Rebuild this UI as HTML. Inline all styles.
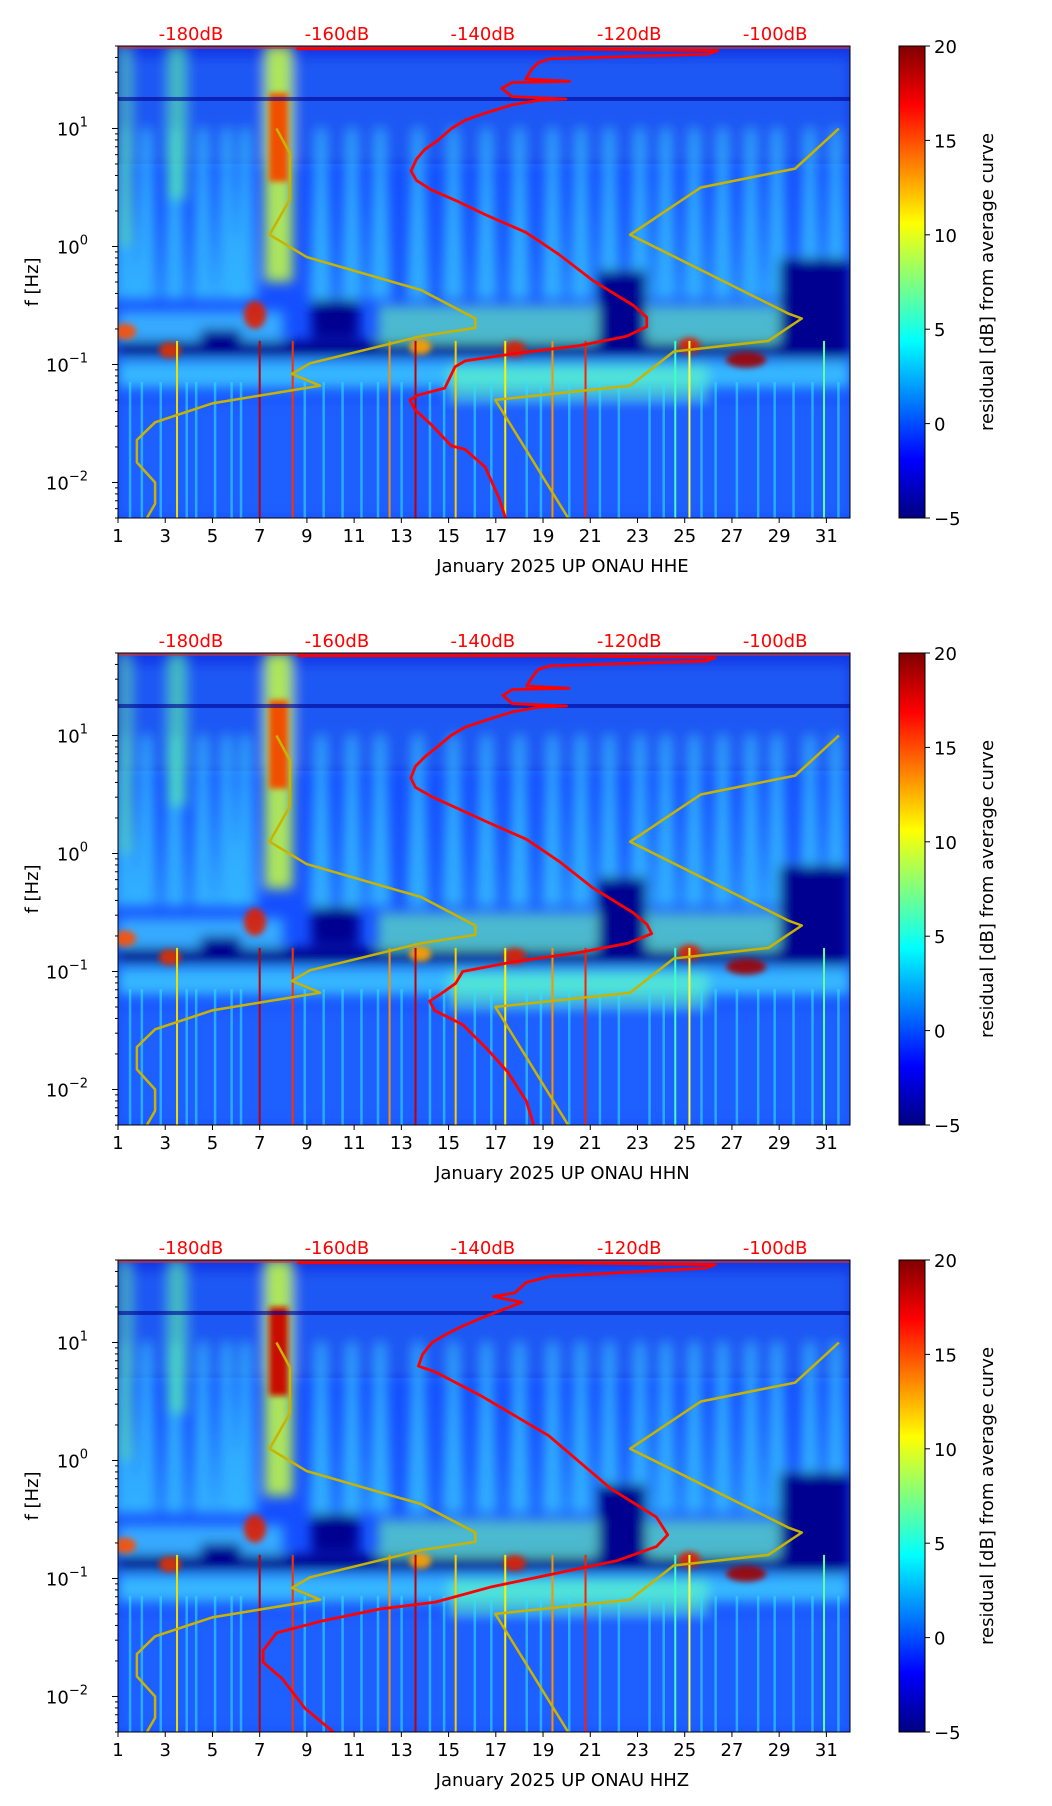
<!DOCTYPE html>
<html><head><meta charset="utf-8">
<style>
html,body{margin:0;padding:0;background:#fff;}
svg{display:block;font-family:"DejaVu Sans","Liberation Sans",sans-serif;}
</style></head>
<body>
<svg id="fig" width="1052" height="1806" viewBox="0 0 1052 1806" xmlns="http://www.w3.org/2000/svg">
<defs>
<filter id="blur6" x="-20%" y="-20%" width="140%" height="140%"><feGaussianBlur stdDeviation="6"/></filter>
<filter id="blur3" x="-50%" y="-50%" width="200%" height="200%"><feGaussianBlur stdDeviation="3"/></filter>
<linearGradient id="jet" x1="0" y1="1" x2="0" y2="0">
<stop offset="0" stop-color="#000080"/><stop offset="0.125" stop-color="#0000ff"/>
<stop offset="0.375" stop-color="#00ffff"/><stop offset="0.625" stop-color="#ffff00"/>
<stop offset="0.875" stop-color="#ff0000"/><stop offset="1" stop-color="#800000"/>
</linearGradient>
</defs>
</svg>
<script>
// ---- data ----
const channels = ["HHE","HHN","HHZ"];
const dayTicks = [1,3,5,7,9,11,13,15,17,19,21,23,25,27,29,31];
const dbLabels = ["-180dB","-160dB","-140dB","-120dB","-100dB"];
const dbLabelDays = [4.09,10.27,16.45,22.65,28.83];
const yTickExp = [1,0,-1,-2];
const cbTicks = [20,15,10,5,0,-5];
const yelADays = [7.71,8.28,8.28,7.42,8.99,13.84,16.13,16.13,13.84,9.13,8.36,9.56,4.99,2.57,1.80,1.80,2.57,2.57,2.23];
const yelALogF = [1.00,0.79,0.40,0.10,-0.09,-0.37,-0.61,-0.69,-0.76,-0.99,-1.08,-1.18,-1.33,-1.49,-1.64,-1.83,-2.00,-2.18,-2.30];
const yelBDays = [20.06,16.98,22.69,24.54,28.54,29.96,29.40,22.69,25.68,29.68,31.53];
const yelBLogF = [-2.30,-1.30,-1.18,-0.89,-0.80,-0.61,-0.57,0.10,0.50,0.66,1.00];
const redDays = [17.41,17.13,16.55,15.70,15.12,14.27,13.56,13.36,13.70,14.84,15.27,15.70,17.69,20.54,22.54,23.39,23.39,22.83,21.12,19.69,18.27,16.55,15.41,14.27,13.64,13.41,13.64,13.98,14.55,15.12,15.70,16.55,17.69,18.83,19.97,17.69,17.25,17.69,20.12,18.27,18.55,18.83,19.26,25.98,26.40,19.69,8.56];
const redLogF = [-2.30,-2.13,-1.87,-1.72,-1.69,-1.51,-1.38,-1.30,-1.26,-1.20,-1.02,-0.97,-0.91,-0.84,-0.76,-0.68,-0.60,-0.50,-0.29,-0.07,0.12,0.27,0.38,0.48,0.56,0.64,0.74,0.82,0.90,1.00,1.07,1.13,1.20,1.24,1.25,1.27,1.34,1.39,1.40,1.42,1.51,1.56,1.59,1.63,1.66,1.675,1.675];
const redNDays = [18.6,18.3,17.5,16.6,15.6,14.4,14.2,14.6,15.3,15.6,17.7,20.5,22.6,23.6,23.4,22.8,21.1,19.7,18.3,16.6,15.4,14.3,13.6,13.4,13.6,14.0,14.5,15.1,15.7,16.6,17.7,18.8,20.0,17.7,17.3,17.7,20.1,18.3,18.6,18.8,19.3,25.9,26.3,19.7,8.6];
const redNLogF = [-2.30,-2.10,-1.85,-1.65,-1.45,-1.33,-1.25,-1.20,-1.10,-1.00,-0.92,-0.84,-0.76,-0.68,-0.60,-0.50,-0.29,-0.07,0.12,0.27,0.38,0.48,0.56,0.64,0.74,0.82,0.90,1.00,1.07,1.13,1.20,1.24,1.25,1.27,1.34,1.39,1.40,1.42,1.51,1.56,1.59,1.63,1.66,1.675,1.675];
const redZDays = [10.12,8.92,7.96,7.15,7.15,7.72,9.64,12.04,14.44,16.84,19.24,22.12,23.80,24.28,23.80,21.88,19.24,16.36,14.44,13.72,13.9,14.3,14.9,15.5,16.3,17.2,18.1,16.9,17.8,18.3,19.3,25.9,26.3,19.7,8.6];
const redZLogF = [-2.30,-2.10,-1.85,-1.71,-1.61,-1.46,-1.36,-1.26,-1.20,-1.07,-0.97,-0.85,-0.73,-0.63,-0.48,-0.24,0.21,0.55,0.75,0.80,0.90,1.00,1.07,1.13,1.20,1.27,1.34,1.39,1.42,1.51,1.56,1.63,1.66,1.675,1.675];
const streakDays = [1.3,2.2,3.4,4.6,5.6,6.4,9.6,10.9,12.1,13.7,15.2,16.6,18.0,19.4,20.6,21.8,23.1,24.2,25.4,26.6,27.8,28.9,30.3,31.4];
const spikeDays = [3.5,7.0,8.4,12.5,13.6,15.3,17.4,19.4,20.8,24.6,25.2,30.9];
const spikeColors = ["#f0e000","#c00000","#ff3000","#ff9000","#c00000","#ffcc00","#ffee00","#ff9000","#ff2000","#40ffc0","#ffff40","#60ffa0"];
const lowStreakDays = [1.5,2.0,2.8,3.9,4.3,5.1,5.8,6.2,8.9,9.7,10.5,11.3,12.0,13.0,14.2,14.8,16.1,16.8,18.3,18.9,20.1,21.4,22.2,23.5,24.1,25.7,26.3,27.2,28.1,28.8,29.6,30.4,31.5];
const darkGapDays = [9.2,11.2,21.3,23.4,29.0,32.0,4.5,6.2];
const darkGapLogLo = [-0.78,-0.78,-0.85,-0.85,-0.95,-0.95,-0.85,-0.85];
const darkGapLogHi = [-0.45,-0.45,-0.2,-0.2,-0.1,-0.1,-0.7,-0.7];
const hotDays = [3.2,6.8,1.3,13.8,17.8,25.2,27.6];
const hotLogF = [-0.88,-0.58,-0.72,-0.85,-0.87,-0.84,-0.96];
const hotColor = ["#e03000","#e02000","#ff5000","#ffa000","#e02000","#e02000","#a00000"];

// ---- layout ----
const svg = document.getElementById('fig');
const NS = 'http://www.w3.org/2000/svg';
const AX_L = 118, AX_R = 850, AX_H = 472;
const panelTops = [46, 653, 1260];
const LOGMAX = Math.log10(50), LOGMIN = Math.log10(0.005);
function xs(day){ return AX_L + (day-1)*(AX_R-AX_L)/31; }
function ysf(top){ return lf => top + (LOGMAX-lf)*AX_H/(LOGMAX-LOGMIN); }
function mk(tag, attrs, parent){ const e=document.createElementNS(NS,tag); for(const k in attrs) e.setAttribute(k,attrs[k]); (parent||svg).appendChild(e); return e; }
function pts(days, lfs, ys){ return days.map((d,i)=>xs(d).toFixed(1)+','+ys(lfs[i]).toFixed(1)).join(' '); }

panelTops.forEach((top, p) => {
  const ys = ysf(top);
  const g = mk('g', {});
  
  
  const cid = 'clip'+p;
  const cp = mk('clipPath', {id:cid}, g);
  mk('rect', {x:AX_L, y:top, width:AX_R-AX_L, height:AX_H}, cp);
  const img = mk('g', {'clip-path':'url(#'+cid+')'}, g);
  
  
  const W = AX_R-AX_L;
  mk('rect', {x:AX_L, y:top, width:W, height:AX_H, fill:'#1550ff'}, img);
  mk('rect', {x:AX_L, y:ys(1.7), width:W, height:ys(0.7)-ys(1.7), fill:'#1238e8'}, img);
  mk('rect', {x:AX_L, y:ys(0.7), width:W, height:ys(-0.5)-ys(0.7), fill:'#1650ff'}, img);
  const soft = mk('g', {filter:'url(#blur6)'}, img);
  mk('rect', {x:AX_L, y:ys(1.6), width:W, height:ys(0.7)-ys(1.6), fill:'#2a78ff', opacity:0.5}, soft);
  streakDays.forEach(d => {
    mk('polygon', {points:[ [xs(d)-4,ys(1.0)],[xs(d)+4,ys(1.0)],[xs(d)+12,ys(-0.45)],[xs(d)-12,ys(-0.45)] ].map(a=>a.join(',')).join(' '), fill:'#3cd4ff', opacity:0.7}, soft);
  });
  mk('rect', {x:AX_L, y:ys(-0.97), width:W, height:ys(-1.2)-ys(-0.97), fill:'#40d8ff', opacity:0.75}, soft);
  mk('rect', {x:xs(15), y:ys(-1.0), width:xs(26)-xs(15), height:ys(-1.3)-ys(-1.0), fill:'#60ffc0', opacity:0.6}, soft);
  mk('rect', {x:AX_L, y:ys(-1.3), width:W, height:ys(-2.3)-ys(-1.3), fill:'#1e62ff', opacity:0.8}, soft);
  mk('rect', {x:AX_L, y:ys(-0.8), width:W, height:ys(-0.93)-ys(-0.8), fill:'#000088'}, soft);
  mk('rect', {x:xs(12), y:ys(-0.5), width:xs(29)-xs(12), height:ys(-0.83)-ys(-0.5), fill:'#70ffb0', opacity:0.6}, soft);
  mk('rect', {x:xs(1), y:ys(-0.55), width:xs(8)-xs(1), height:ys(-0.8)-ys(-0.55), fill:'#40c0ff', opacity:0.8}, soft);
  for(let i=0;i<darkGapDays.length;i+=2){
    mk('rect', {x:xs(darkGapDays[i]), y:ys(darkGapLogHi[i]), width:xs(darkGapDays[i+1])-xs(darkGapDays[i]), height:ys(darkGapLogLo[i])-ys(darkGapLogHi[i]), fill:'#000090'}, soft);
  }
  mk('rect', {x:xs(7.2), y:top, width:xs(8.4)-xs(7.2), height:ys(-0.3)-top, fill:'#c8ff40', opacity:0.85}, soft);
  mk('rect', {x:xs(1), y:top, width:xs(1.6)-xs(1), height:ys(0.0)-top, fill:'#60e0a0', opacity:0.6}, soft);
  mk('rect', {x:xs(3.1), y:top, width:xs(3.9)-xs(3.1), height:ys(0.4)-top, fill:'#60ffa0', opacity:0.6}, soft);
  const hot = mk('g', {filter:'url(#blur3)'}, img);
  mk('rect', {x:xs(7.4), y:ys(1.3), width:xs(8.2)-xs(7.4), height:ys(0.55)-ys(1.3), fill: p===2?'#c81000':'#f05000'}, hot);
  hotDays.forEach((d,i) => {
    mk('ellipse', {cx:xs(d), cy:ys(hotLogF[i]), rx:(i===6?20:11), ry:(i===1?14:8), fill:hotColor[i], opacity:0.9}, hot);
  });
  lowStreakDays.forEach(d => {
    mk('rect', {x:xs(d)-1, y:ys(-1.15), width:2.5, height:ys(-2.3)-ys(-1.15), fill:'#30e0ff', opacity:0.6}, img);
  });
  mk('rect', {x:AX_L, y:ys(1.25)-2, width:W, height:4, fill:'#000090', opacity:0.6}, img);
  mk('rect', {x:AX_L, y:top, width:W, height:3, fill:'#e03020', opacity:0.6}, img);
  spikeDays.forEach((d,i) => {
    mk('rect', {x:xs(d)-1, y:ys(-0.8), width:2, height:ys(-2.3)-ys(-0.8), fill:spikeColors[i]}, img);
  });
  const ya = mk('polyline', {points:pts(yelADays,yelALogF,ys), fill:'none', stroke:'#c8b400', 'stroke-width':2.5, 'stroke-linejoin':'round'}, img);
  
  
  const yb = mk('polyline', {points:pts(yelBDays,yelBLogF,ys), fill:'none', stroke:'#c8b400', 'stroke-width':2.5, 'stroke-linejoin':'round'}, img);
  
  
  const rd = p===0 ? [redDays,redLogF] : p===1 ? [redNDays,redNLogF] : [redZDays,redZLogF];
  const rc = mk('polyline', {points:pts(rd[0],rd[1],ys), fill:'none', stroke:'#ff0000', 'stroke-width':2.8, 'stroke-linejoin':'round'}, img);
  
  
  mk('rect', {x:AX_L, y:top, width:W, height:AX_H, fill:'none', stroke:'#000', 'stroke-width':1}, g);
  dayTicks.forEach(d => {
    mk('line', {x1:xs(d), x2:xs(d), y1:top+AX_H, y2:top+AX_H+5, stroke:'#000'}, g);
    const t = mk('text', {x:xs(d), y:top+AX_H+24, 'font-size':18, 'text-anchor':'middle'}, g);
    t.textContent = d;
  });
  const xl = mk('text', {x:484*1.162, y:top+AX_H+54, 'font-size':18, 'text-anchor':'middle'}, g);
  xl.textContent = 'January 2025 UP ONAU  ' + channels[p];
  
  
  yTickExp.forEach(e => {
    const y = ys(e);
    mk('line', {x1:AX_L-6, x2:AX_L, y1:y, y2:y, stroke:'#000'}, g);
    const t = mk('text', {x:AX_L-30, y:y+7, 'font-size':18, 'text-anchor':'end'}, g);
    t.textContent = '10';
    const s = mk('tspan', {dy:-9, 'font-size':13}, t);
    s.textContent = e===0?'0':(e<0?'\u2212'+(-e):String(e));
  });
  for(let e=-3;e<=1;e++) for(let m=2;m<=9;m++){
    const lf = e+Math.log10(m);
    if(lf<LOGMIN||lf>LOGMAX) continue;
    mk('line', {x1:AX_L-3, x2:AX_L, y1:ys(lf), y2:ys(lf), stroke:'#000'}, g);
  }
  const yl = mk('text', {x:0, y:0, 'font-size':18, 'text-anchor':'middle', transform:'translate(38,'+(top+AX_H/2)+') rotate(-90)'}, g);
  yl.textContent = 'f [Hz]';
  
  
  dbLabels.forEach((lab,i) => {
    const t = mk('text', {x:xs(dbLabelDays[i]), y:top-6, 'font-size':18, fill:'#ff0000', 'text-anchor':'middle'}, g);
    t.textContent = lab;
    
    
  });
  const cb = mk('g', {}, g);
  
  
  mk('rect', {x:899, y:top, width:26, height:AX_H, fill:'url(#jet)', stroke:'#000', 'stroke-width':1}, cb);
  cbTicks.forEach(v => {
    const y = top + (20-v)*AX_H/25;
    mk('line', {x1:925, x2:930, y1:y, y2:y, stroke:'#000'}, cb);
    const t = mk('text', {x:934, y:y+7, 'font-size':18}, cb);
    t.textContent = v<0?'\u2212'+(-v):v;
  });
  const cl = mk('text', {x:0, y:0, 'font-size':18, 'text-anchor':'middle', transform:'translate(993,'+(top+AX_H/2)+') rotate(-90)'}, cb);
  cl.textContent = 'residual [dB] from average curve';
});
</script>
</body></html>
